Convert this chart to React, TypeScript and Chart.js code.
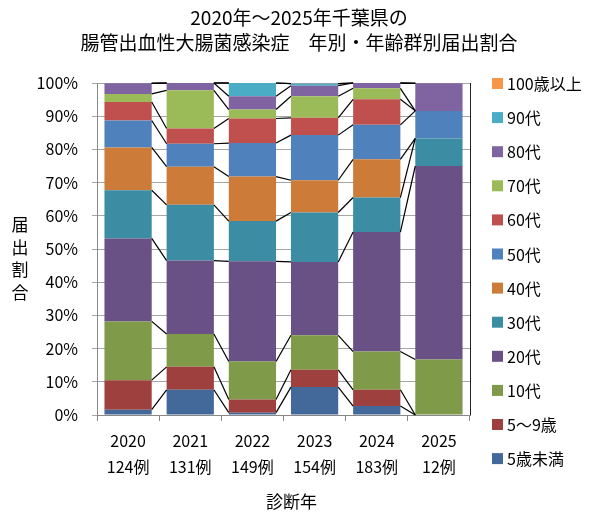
import React, { useEffect, useRef } from "react";
import { Chart, registerables } from "chart.js";

Chart.register(...registerables);

const years = ["2020", "2021", "2022", "2023", "2024", "2025"];
const caseLabels = ["124例", "131例", "149例", "154例", "183例", "12例"];

const seriesNames = ["5歳未満", "5～9歳", "10代", "20代", "30代", "40代", "50代", "60代", "70代", "80代", "90代", "100歳以上"];
const seriesColors = ["#42699A", "#9E413E", "#7F9A48", "#695185", "#3C8DA3", "#CC7B38", "#4F81BD", "#C0504D", "#9BBB59", "#8064A2", "#4BACC6", "#F79646"];

const under5 = [1.6, 7.6, 0.7, 8.4, 2.7, 0];
const age5to9 = [8.9, 6.9, 4.0, 5.2, 4.9, 0];
const age10s = [17.7, 9.9, 11.4, 10.4, 11.5, 16.7];
const age20s = [25.0, 22.1, 30.2, 22.1, 36.0, 58.3];
const age30s = [14.5, 16.8, 12.1, 14.9, 10.4, 8.3];
const age40s = [12.9, 11.5, 13.4, 9.7, 11.5, 0];
const age50s = [8.1, 6.9, 10.1, 13.6, 10.4, 8.3];
const age60s = [5.6, 4.6, 7.4, 5.2, 7.7, 0];
const age70s = [2.4, 11.5, 2.7, 6.5, 3.3, 0];
const age80s = [3.2, 2.2, 4.0, 3.2, 1.6, 8.3];
const age90s = [0, 0, 4.0, 0.6, 0, 0];
const age100plus = [0, 0, 0, 0, 0, 0];

const seriesValues = [under5, age5to9, age10s, age20s, age30s, age40s, age50s, age60s, age70s, age80s, age90s, age100plus];

const titleLines = ["2020年～2025年千葉県の", "腸管出血性大腸菌感染症　年別・年齢群別届出割合"];
const yTitle = "届出割合";
const xTitle = "診断年";

const FONT = "'Noto Sans CJK JP', 'Noto Sans', sans-serif";

const decoPlugin = {
  id: "deco",
  afterDatasetsDraw(chart: any) {
    const ctx = chart.ctx;
    const { right, top, bottom } = chart.chartArea;
    ctx.save();
    ctx.strokeStyle = "#000";
    ctx.lineWidth = 1.2;
    chart.data.datasets.forEach((_ds: any, di: number) => {
      const meta = chart.getDatasetMeta(di);
      for (let i = 0; i < meta.data.length - 1; i++) {
        const a: any = meta.data[i];
        const b: any = meta.data[i + 1];
        ctx.beginPath();
        ctx.moveTo(a.x + a.width / 2, a.y);
        ctx.lineTo(b.x - b.width / 2, b.y);
        ctx.stroke();
      }
    });
    ctx.beginPath();
    ctx.lineWidth = 1;
    ctx.strokeStyle = "#222";
    ctx.moveTo(Math.round(right) + 0.5, top);
    ctx.lineTo(Math.round(right) + 0.5, bottom);
    ctx.stroke();
    ctx.restore();
  },
  afterDraw(chart: any) {
    const ctx = chart.ctx;
    const { left, right, top } = chart.chartArea;
    ctx.save();
    ctx.fillStyle = "#000";
    ctx.textBaseline = "middle";
    // title
    ctx.textAlign = "center";
    ctx.font = `19px ${FONT}`;
    ctx.fillText(titleLines[0], chart.width / 2, 18);
    ctx.fillText(titleLines[1], chart.width / 2, 43);
    // y title (vertical upright characters)
    ctx.font = `17px ${FONT}`;
    const chars = Array.from(yTitle);
    chars.forEach((c, i) => {
      ctx.fillText(c, 20, 225 + i * 22.5);
    });
    // x title
    ctx.font = `17px ${FONT}`;
    ctx.fillText(xTitle, (left + right) / 2 + 8, 502);
    // legend (reversed)
    ctx.textAlign = "left";
    ctx.font = `16px ${FONT}`;
    const n = seriesNames.length;
    for (let k = 0; k < n; k++) {
      const idx = n - 1 - k;
      const cy = top + k * 34.1;
      ctx.fillStyle = seriesColors[idx];
      ctx.fillRect(right + 22, cy - 5, 11, 11);
      ctx.fillStyle = "#000";
      ctx.fillText(seriesNames[idx], right + 37, cy + 1);
    }
    ctx.restore();
  },
};

export default function App() {
  const ref = useRef<HTMLCanvasElement | null>(null);
  useEffect(() => {
    document.body.style.margin = "0";
    document.body.style.overflow = "hidden";
    if (!ref.current) return;
    Chart.defaults.font.family = FONT;
    const chart = new Chart(ref.current, {
      type: "bar",
      data: {
        labels: years.map((y, i) => [y, caseLabels[i]]),
        datasets: seriesValues.map((vals, i) => ({
          label: seriesNames[i],
          data: vals,
          backgroundColor: seriesColors[i],
          borderWidth: 0,
          categoryPercentage: 1,
          barPercentage: 0.76,
        })),
      },
      options: {
        animation: false,
        responsive: true,
        maintainAspectRatio: false,
        layout: { padding: { top: 83, right: 128, left: 0, bottom: 0 } },
        plugins: {
          legend: { display: false },
          title: { display: false },
          tooltip: { enabled: false },
        },
        scales: {
          x: {
            stacked: true,
            afterFit: (s: any) => { s.height = 101; },
            grid: { display: true, drawOnChartArea: false, drawTicks: true, tickLength: 6, color: "#888" },
            border: { color: "#888" },
            ticks: { color: "#000", font: { size: 16, lineHeight: 1.625, family: FONT }, padding: 7, maxRotation: 0 },
          },
          y: {
            stacked: true,
            min: 0,
            max: 100,
            afterFit: (s: any) => { s.width = 97; },
            grid: { color: "#a6a6a6", tickLength: 5, drawTicks: true },
            border: { color: "#888" },
            ticks: {
              stepSize: 10,
              color: "#000",
              padding: 14,
              font: { size: 16, family: FONT },
              callback: (v: any) => `${v}%`,
            },
          },
        },
      },
      plugins: [decoPlugin],
    });
    return () => chart.destroy();
  }, []);
  return (
    <div style={{ position: "relative", width: 598, height: 516 }}>
      <canvas ref={ref} />
    </div>
  );
}
